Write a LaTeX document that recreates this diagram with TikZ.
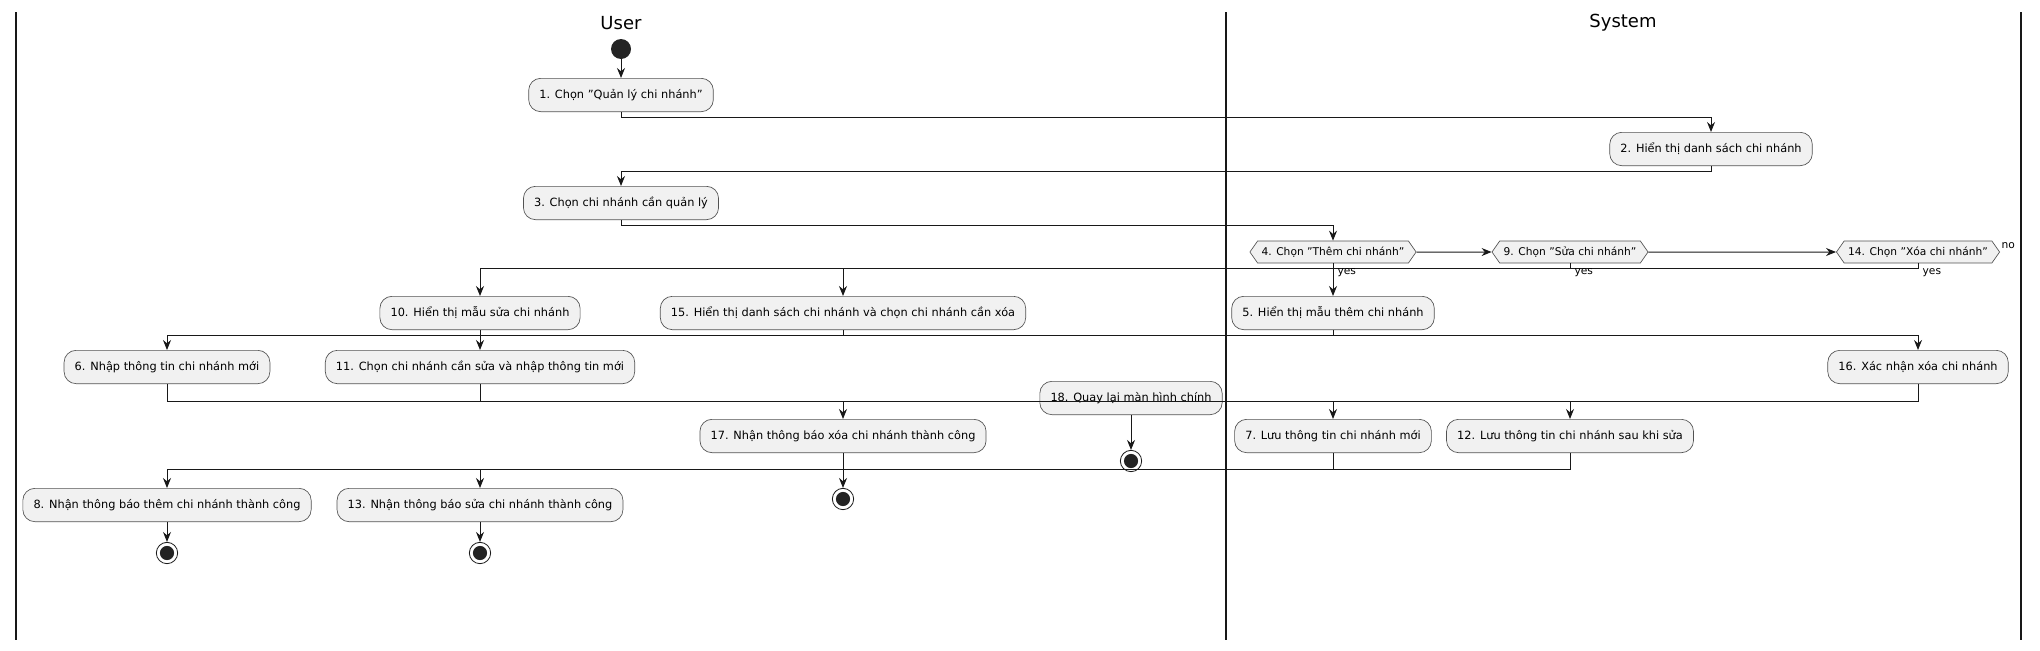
\documentclass[tikz,border=0pt]{standalone}
\usepackage{fontspec}
\setmainfont{DejaVu Sans}
\usetikzlibrary{calc,arrows.meta,shapes.symbols}
\definecolor{ACTFILL}{HTML}{F1F1F1}
\definecolor{ACTLINE}{HTML}{181818}

\begin{document}
\begin{tikzpicture}[x=0.75pt, y=-0.75pt,
  abox/.style={draw=ACTLINE!75, fill=ACTFILL, rectangle, rounded corners=9pt, line width=0.5pt,
    minimum height=25pt, inner xsep=8pt, font=\fontsize{8.5}{10}\selectfont},
  dbox/.style={draw=ACTLINE!75, fill=ACTFILL, signal, signal to=west and east, signal pointer angle=110,
    line width=0.5pt, minimum height=16.5pt, inner xsep=3pt, inner ysep=1pt, font=\fontsize{8}{9.5}\selectfont},
  startnode/.style={circle, fill=ACTLINE!95, minimum size=15pt, inner sep=0pt},
  endnode/.style={circle, draw=ACTLINE, fill=white, line width=0.6pt, minimum size=16pt, inner sep=0pt,
    path picture={\fill[ACTLINE!95] (path picture bounding box.center) circle (5.3pt);}},
  lane/.style={line width=1.2pt, ACTLINE},
  title/.style={font=\fontsize{13.5}{16}\selectfont},
  arr/.style={-{Stealth[length=7.5pt, width=6pt, inset=2.5pt]}, line width=0.75pt, ACTLINE},
  lbl/.style={font=\fontsize{8}{9.5}\selectfont, inner sep=1pt}
]
\useasboundingbox (0,0) rectangle (2040,650);

% swimlanes
\draw[lane] (16,12) -- (16,640);
\draw[lane] (1226,12) -- (1226,640);
\draw[lane] (2021,12) -- (2021,640);
\node[title] (user)   at (621,23)  {User};
\node[title] (system) at (1623,23) {System};

\node[startnode] (start) at (621,49) {};
\node[abox] (b1)  at (621,95)   {1. Chọn "Quản lý chi nhánh"};
\node[abox] (b2)  at (1711,149) {2. Hiển thị danh sách chi nhánh};
\node[abox] (b3)  at (621,203)  {3. Chọn chi nhánh cần quản lý};

\node[dbox] (d4)  at (1333,252) {4. Chọn "Thêm chi nhánh"};
\node[dbox] (d9)  at (1570,252) {9. Chọn "Sửa chi nhánh"};
\node[dbox] (d14) at (1918,252) {14. Chọn "Xóa chi nhánh"};

\node[abox] (b10) at (480,313)  {10. Hiển thị mẫu sửa chi nhánh};
\node[abox] (b15) at (843,313)  {15. Hiển thị danh sách chi nhánh và chọn chi nhánh cần xóa};
\node[abox] (b5)  at (1333,313) {5. Hiển thị mẫu thêm chi nhánh};

\node[abox] (b6)  at (167,367)  {6. Nhập thông tin chi nhánh mới};
\node[abox] (b11) at (480,367)  {11. Chọn chi nhánh cần sửa và nhập thông tin mới};
\node[abox] (b16) at (1918,367) {16. Xác nhận xóa chi nhánh};

\node[abox] (b18) at (1131,398) {18. Quay lại màn hình chính};

\node[abox] (b17) at (843,436)  {17. Nhận thông báo xóa chi nhánh thành công};
\node[abox] (b7)  at (1333,436) {7. Lưu thông tin chi nhánh mới};
\node[abox] (b12) at (1570,436) {12. Lưu thông tin chi nhánh sau khi sửa};

\node[abox] (b8)  at (167,505)  {8. Nhận thông báo thêm chi nhánh thành công};
\node[abox] (b13) at (480,505)  {13. Nhận thông báo sửa chi nhánh thành công};

\node[endnode] (e8)  at (167,553)  {};
\node[endnode] (e13) at (480,553)  {};
\node[endnode] (e17) at (843,499)  {};
\node[endnode] (e18) at (1131,461) {};

\draw[arr] (start) -- (b1);
\draw[arr] (b1.south) -- ++(0,5) -| (b2.north);
\draw[arr] (b2.south) -- ++(0,5) -| (b3.north);
\draw[arr] (b3.south) -- ++(0,5) -| (d4.north);
\draw[arr] (d4) -- (d9);
\draw[arr] (d9) -- (d14);
\draw[arr] (d4) -- (b5);
\draw[arr] (d9.south) -- ++(0,5) -| (b10.north);
\draw[arr] (d14.south) -- ++(0,5) -| (b15.north);
\draw[arr] (b5.south) -- ++(0,5) -| (b6.north);
\draw[arr] (b10) -- (b11);
\draw[arr] (b15.south) -- ++(0,5) -| (b16.north);
\draw[arr] (b6.south) -- ++(0,17) -| (b7.north);
\draw[arr] (b11.south) -- ++(0,17) -| (b12.north);
\draw[arr] (b16.south) -- ++(0,17) -| (b17.north);
\draw[arr] (b7.south) -- ++(0,16) -| (b8.north);
\draw[arr] (b12.south) -- ++(0,16) -| (b13.north);
\draw[arr] (b8) -- (e8);
\draw[arr] (b13) -- (e13);
\draw[arr] (b17) -- (e17);
\draw[arr] (b18) -- (e18);

\node[lbl, anchor=west] at ($(d4.south)+(3,9)$)  {yes};
\node[lbl, anchor=west] at ($(d9.south)+(3,9)$)  {yes};
\node[lbl, anchor=west] at ($(d14.south)+(3,9)$) {yes};
\node[lbl, anchor=south west] at ($(d14.east)+(0,-2)$) {no};
\end{tikzpicture}
\end{document}
